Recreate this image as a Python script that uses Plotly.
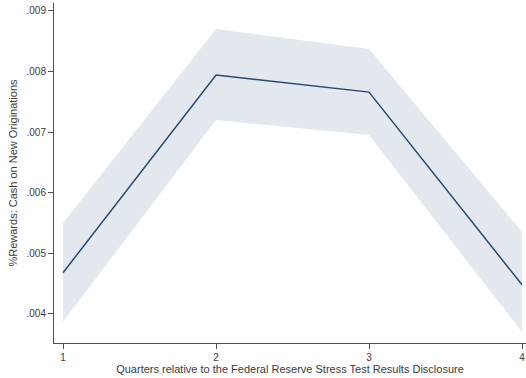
import plotly.graph_objects as go

# Quarters after the stress test disclosure and estimated coefficients
quarters = [1, 2, 3, 4]
estimate = [0.00468, 0.00794, 0.00766, 0.00448]
ci_upper = [0.00550, 0.00870, 0.00837, 0.00535]
ci_lower = [0.00387, 0.00720, 0.00695, 0.00370]

y_ticks = [0.004, 0.005, 0.006, 0.007, 0.008, 0.009]
y_tick_text = [".004", ".005", ".006", ".007", ".008", ".009"]

band_color = "rgb(226,232,238)"
line_color = "rgb(40,72,110)"
axis_color = "rgb(80,80,80)"
text_color = "rgb(60,60,60)"

fig = go.Figure()

# confidence band
fig.add_trace(go.Scatter(
    x=quarters + quarters[::-1],
    y=ci_upper + ci_lower[::-1],
    fill="toself",
    fillcolor=band_color,
    line=dict(width=0),
    mode="lines",
    hoverinfo="skip",
    showlegend=False,
))

# point estimates
fig.add_trace(go.Scatter(
    x=quarters,
    y=estimate,
    mode="lines",
    line=dict(color=line_color, width=1.5),
    showlegend=False,
))

fig.update_layout(
    width=526,
    height=378,
    margin=dict(l=54, r=0, t=3, b=35),
    plot_bgcolor="white",
    paper_bgcolor="white",
    font=dict(family="Liberation Sans, Arial, sans-serif", size=10, color=text_color),
)

fig.update_xaxes(
    range=[0.941, 4.026],
    tickvals=quarters,
    ticktext=[str(q) for q in quarters],
    ticks="outside",
    ticklen=5,
    tickcolor=axis_color,
    showline=True,
    linecolor=axis_color,
    linewidth=1,
    showgrid=False,
    zeroline=False,
    title=dict(text="Quarters relative to the Federal Reserve Stress Test Results Disclosure",
               font=dict(size=11, color=text_color), standoff=0),
)

fig.update_yaxes(
    range=[0.00352, 0.00913],
    tickvals=y_ticks,
    ticktext=y_tick_text,
    ticks="outside",
    ticklen=5,
    tickcolor=axis_color,
    showline=True,
    linecolor=axis_color,
    linewidth=1,
    showgrid=False,
    zeroline=False,
    title=dict(text="%Rewards: Cash on New Originations",
               font=dict(size=11, color=text_color), standoff=6),
)

fig.write_html("out.html")
